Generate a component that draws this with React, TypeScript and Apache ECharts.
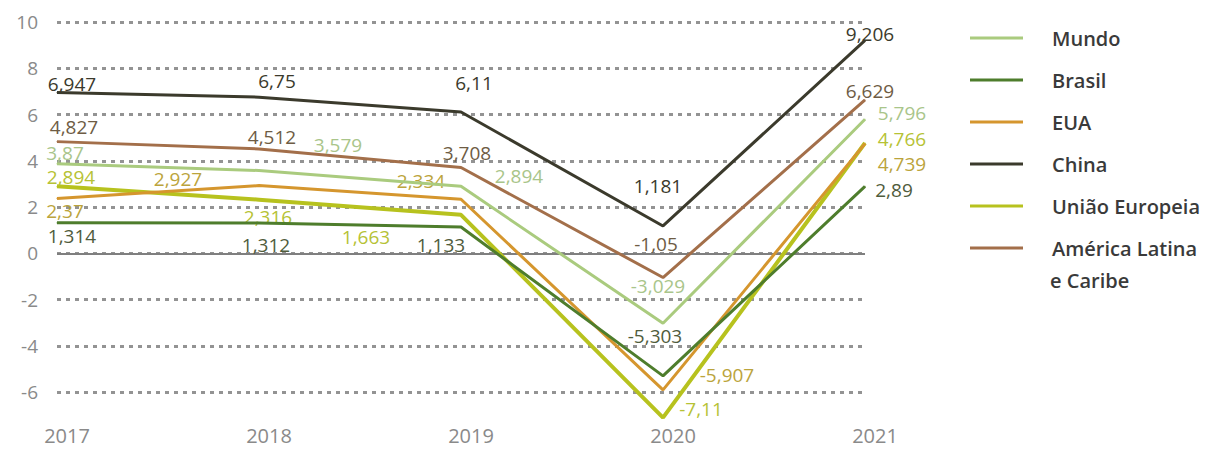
import React, { useEffect, useRef } from "react";
import * as echarts from "echarts";

const years = ["2017", "2018", "2019", "2020", "2021"];
const seriesNames = ["Mundo", "Brasil", "EUA", "China", "União Europeia", "América Latina e Caribe"];

const mundo = [3.87, 3.579, 2.894, -3.029, 5.796];
const brasil = [1.314, 1.312, 1.133, -5.303, 2.89];
const eua = [2.37, 2.927, 2.334, -5.907, 4.739];
const china = [6.947, 6.75, 6.11, 1.181, 9.206];
const uniaoEuropeia = [2.894, 2.316, 1.663, -7.11, 4.766];
const americaLatina = [4.827, 4.512, 3.708, -1.05, 6.629];

const yTicks = { min: -6, max: 10, interval: 2 };

// label placement (offset of text centre from the point), per series, per year
const labelOffsets: Record<string, number[][]> = {
  Mundo: [[8, -11], [79, -25], [58, -10], [-5, -37], [37, -6]],
  Brasil: [[15, 13], [7, 22], [-20, 18], [-8, -40], [29, 4]],
  EUA: [[8, 13], [-81, -7], [-40, -18], [64, -15], [37, 20]],
  China: [[15, -9], [18, -16], [13, -29], [-5, -40], [5, -6]],
  "União Europeia": [[14, -9], [9, 17], [-95, 22], [38, -9], [37, -4]],
  "América Latina e Caribe": [[17, -15], [13, -12], [6, -15], [-7, -34], [5, -9]],
};

const lineColors: Record<string, string> = {
  Mundo: "#aacb7e",
  Brasil: "#4e7d2c",
  EUA: "#d5962e",
  China: "#3b3a2c",
  "União Europeia": "#b7c21e",
  "América Latina e Caribe": "#a36f4a",
};
const labelColors: Record<string, string> = {
  Mundo: "#a9c58a",
  Brasil: "#505c3c",
  EUA: "#bba43c",
  China: "#3b3a2c",
  "União Europeia": "#b6c235",
  "América Latina e Caribe": "#6e5c44",
};
const lineWidths: Record<string, number> = {
  Mundo: 3,
  Brasil: 3,
  EUA: 3,
  China: 3,
  "União Europeia": 4,
  "América Latina e Caribe": 3,
};

const valuesByName: Record<string, number[]> = {
  Mundo: mundo,
  Brasil: brasil,
  EUA: eua,
  China: china,
  "União Europeia": uniaoEuropeia,
  "América Latina e Caribe": americaLatina,
};

const FONT = "'Open Sans', 'Noto Sans', sans-serif";

export default function App() {
  const ref = useRef<HTMLDivElement>(null);
  useEffect(() => {
    if (!ref.current) return;
    const chart = echarts.init(ref.current, undefined, { renderer: "svg" });
    const fmt = (v: number) => String(v).replace(".", ",");
    const series: any[] = seriesNames.map((name, si) => ({
      name,
      type: "line",
      clip: false,
      symbol: "circle",
      symbolSize: 1,
      showSymbol: true,
      z: 10 - si,
      lineStyle: { color: lineColors[name], width: lineWidths[name] },
      itemStyle: { color: lineColors[name] },
      data: valuesByName[name].map((v, i) => ({
        value: v,
        label: {
          show: true,
          position: "inside",
          offset: labelOffsets[name][i],
          formatter: () => fmt(v),
          color: labelColors[name],
          fontSize: 19,
          fontFamily: FONT,
        },
      })),
    }));
    series.push({
      name: "zero",
      type: "line",
      data: [],
      silent: true,
      markLine: {
        silent: true,
        symbol: "none",
        label: { show: false },
        lineStyle: { color: "#7f7f7f", width: 2, type: "solid" },
        data: [{ yAxis: 0 }],
      },
    });
    chart.setOption({
      animation: false,
      backgroundColor: "#ffffff",
      textStyle: { fontFamily: FONT },
      grid: { left: 57, right: 341, top: 22, bottom: 71 },
      xAxis: {
        type: "category",
        data: years,
        boundaryGap: false,
        axisLine: { show: false },
        axisTick: { show: false },
        splitLine: { show: false },
        axisLabel: {
          show: true,
          margin: 33,
          color: "#8a8a8a",
          fontSize: 20,
          fontFamily: FONT,
          padding: [0, 0, 0, 20],
        },
      },
      yAxis: {
        type: "value",
        min: yTicks.min,
        max: yTicks.max,
        interval: yTicks.interval,
        axisLine: { show: false },
        axisTick: { show: false },
        axisLabel: {
          margin: 19,
          color: "#8a8a8a",
          fontSize: 19,
          fontFamily: FONT,
        },
        splitLine: {
          lineStyle: { color: "#939393", width: 3, type: [4, 5] },
        },
      },
      legend: {
        orient: "vertical",
        left: 965,
        top: 23,
        itemWidth: 53,
        itemHeight: 3,
        itemGap: 22,
        icon: "rect",
        data: seriesNames,
        formatter: (name: string) =>
          `{t|${name === "América Latina e Caribe" ? "América Latina" : name}}`,
        textStyle: {
          rich: {
            t: {
              fontSize: 20,
              fontFamily: FONT,
              fontWeight: 600,
              color: "#3a3a3a",
              padding: [0, 0, 0, 24],
              lineHeight: 20,
            },
          },
        },
      },
      graphic: [
        {
          type: "text",
          left: 1050,
          top: 270,
          style: {
            text: "e Caribe",
            fontSize: 20,
            fontFamily: FONT,
            fontWeight: 600,
            fill: "#3a3a3a",
          },
        },
      ],
      series,
    });
    return () => chart.dispose();
  }, []);
  return <div ref={ref} style={{ width: 1206, height: 463, position: "absolute", left: 0, top: 0 }} />;
}
